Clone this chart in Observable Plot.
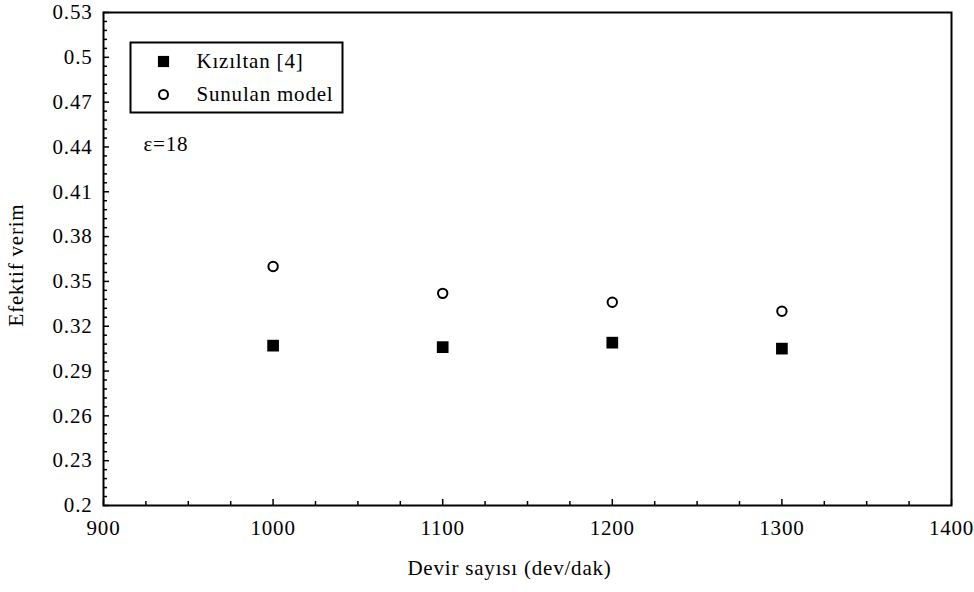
<!DOCTYPE html>
<html>
<head>
<meta charset="utf-8">
<script src="https://cdn.jsdelivr.net/npm/d3@7"></script>
<script src="https://cdn.jsdelivr.net/npm/@observablehq/plot@0.6"></script>
<style>
  html, body { margin: 0; padding: 0; background: #fff; }
  #chart svg { display: block; background: #fff; }
  #chart svg, #chart svg text {
    font-family: "Liberation Serif", "Times New Roman", "DejaVu Serif", serif !important;
    font-size: 21px !important;
    letter-spacing: 0.8px;
  }
</style>
</head>
<body>
<div id="chart"></div>
<script>
// Engine speed (rpm) and effective efficiency for compression ratio 18
const rpm = [1000, 1100, 1200, 1300];
const kiziltan = [0.307, 0.306, 0.309, 0.305];
const model = [0.360, 0.342, 0.336, 0.330];

const seriesNames = ["Kızıltan [4]", "Sunulan model"];
const note = ["ε=18"];
const xTitle = ["Devir sayısı (dev/dak)"];
const yTitle = ["Efektif verim"];

const xTicks = [900, 1000, 1100, 1200, 1300, 1400];
const xTickLabels = ["900", "1000", "1100", "1200", "1300", "1400"];
const yTicks = [0.2, 0.23, 0.26, 0.29, 0.32, 0.35, 0.38, 0.41, 0.44, 0.47, 0.5, 0.53];
const yTickLabels = ["0.2", "0.23", "0.26", "0.29", "0.32", "0.35", "0.38", "0.41", "0.44", "0.47", "0.5", "0.53"];

// minor ticks: quarter steps on x, fifth steps on y
const xMinor = d3.range(900, 1400, 25).filter(v => v % 100 !== 0);
const yMinor = d3.range(0, 55).map(i => 0.2 + i * 0.006).filter((v, i) => i % 5 !== 0);

const kData = rpm.map((x, i) => ({x, y: kiziltan[i]}));
const mData = rpm.map((x, i) => ({x, y: model[i]}));

const chart = Plot.plot({
  width: 974,
  height: 592,
  marginLeft: 103,
  marginRight: 23,
  marginTop: 12,
  marginBottom: 87,
  x: {domain: [900, 1400]},
  y: {domain: [0.2, 0.53]},
  marks: [
    // inward tick marks
    Plot.axisX(xMinor, {tickSize: -4, text: null, label: null, strokeWidth: 1.5}),
    Plot.axisX(xTicks, {tickSize: -6, text: null, label: null, strokeWidth: 1.5}),
    Plot.axisY(yMinor, {tickSize: -4, text: null, label: null, strokeWidth: 1.5}),
    Plot.axisY(yTicks, {tickSize: -6, text: null, label: null, strokeWidth: 1.5}),
    // tick labels
    Plot.axisX(xTicks, {tickSize: 0, tickPadding: 15, tickFormat: (d, i) => xTickLabels[i], label: null}),
    Plot.axisY(yTicks, {tickSize: 0, tickPadding: 11, tickFormat: (d, i) => yTickLabels[i], label: null}),
    // axis titles
    Plot.text(xTitle, {frameAnchor: "bottom", dx: -18, dy: 63, textAnchor: "middle", lineAnchor: "middle"}),
    Plot.text(yTitle, {frameAnchor: "left", dx: -87, dy: 6, rotate: -90, textAnchor: "middle", lineAnchor: "middle"}),
    // plot border
    Plot.frame({stroke: "#000", strokeWidth: 2}),
    // data
    Plot.dot(kData, {x: "x", y: "y", symbol: "square", fill: "#000", r: 6.6}),
    Plot.dot(mData, {x: "x", y: "y", symbol: "circle", fill: "#fff", stroke: "#000", strokeWidth: 2, r: 4.7}),
    // legend box
    Plot.frame({insetLeft: 27, insetTop: 30, insetRight: 609, insetBottom: 393, stroke: "#000", strokeWidth: 2}),
    Plot.dot([seriesNames[0]], {frameAnchor: "top-left", dx: 60, dy: 49, symbol: "square", fill: "#000", r: 6.3}),
    Plot.dot([seriesNames[1]], {frameAnchor: "top-left", dx: 60, dy: 82, symbol: "circle", fill: "#fff", stroke: "#000", strokeWidth: 2, r: 4.5}),
    Plot.text([seriesNames[0]], {frameAnchor: "top-left", dx: 93, dy: 49, textAnchor: "start", lineAnchor: "middle"}),
    Plot.text([seriesNames[1]], {frameAnchor: "top-left", dx: 93, dy: 82, textAnchor: "start", lineAnchor: "middle"}),
    // compression ratio note
    Plot.text(note, {frameAnchor: "top-left", dx: 40, dy: 132, textAnchor: "start", lineAnchor: "middle"})
  ]
});

document.getElementById("chart").appendChild(chart);
</script>
</body>
</html>
